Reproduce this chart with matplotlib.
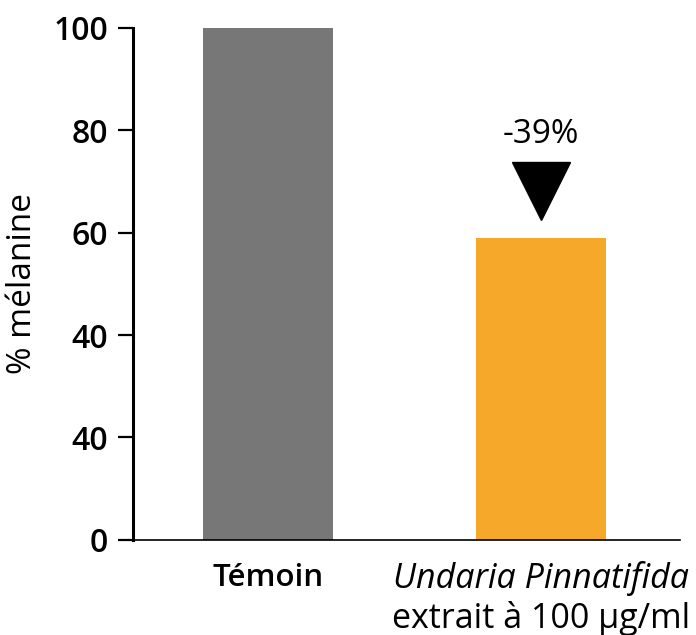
import matplotlib.pyplot as plt
from matplotlib.transforms import blended_transform_factory

# data
categories = ["Témoin", "Undaria Pinnatifida"]
values = [100, 59]
colors = ["#777777", "#F5A82A"]
ytick_pos = [0, 20, 40, 60, 80, 100]
ytick_labels = ["0", "40", "40", "60", "80", "100"]  # as printed in the original
drop_label = "-39%"
sub_label = "extrait à 100 µg/ml"

plt.rcParams["font.family"] = ["Open Sans", "DejaVu Sans"]

fig = plt.figure(figsize=(6.96, 6.35), dpi=100)
ax = fig.add_axes([0.191, 0.150, 0.786, 0.806])

x = [0, 1]
ax.bar(x, values, width=0.476, color=colors)

ax.set_xlim(-0.495, 1.509)
ax.set_ylim(0, 100)

ax.set_yticks(ytick_pos)
ax.set_yticklabels(ytick_labels, fontsize=23, fontweight="semibold")
ax.tick_params(axis="y", length=11, width=1.6, pad=7)
ax.set_xticks([])

ax.spines["top"].set_visible(False)
ax.spines["right"].set_visible(False)
ax.spines["left"].set_linewidth(2.2)
ax.spines["bottom"].set_linewidth(1.2)

ax.set_ylabel("% mélanine", fontsize=24, labelpad=10)

# x labels
tr = blended_transform_factory(ax.transData, ax.transAxes)
ax.text(x[0], -0.075, categories[0], transform=tr, ha="center", va="center",
        fontsize=22.5, fontweight="semibold")
ax.text(x[1], -0.075, categories[1], transform=tr, ha="center", va="center",
        fontsize=24.5, style="italic")
ax.text(x[1], -0.153, sub_label, transform=tr, ha="center", va="center",
        fontsize=24.5)

# reduction marker
ax.plot(x[1], values[1] + 9.2, marker="v", markersize=42, color="black")
ax.text(x[1], values[1] + 20.2, drop_label, ha="center", va="center", fontsize=24)

fig.savefig("out.png", dpi=100)
